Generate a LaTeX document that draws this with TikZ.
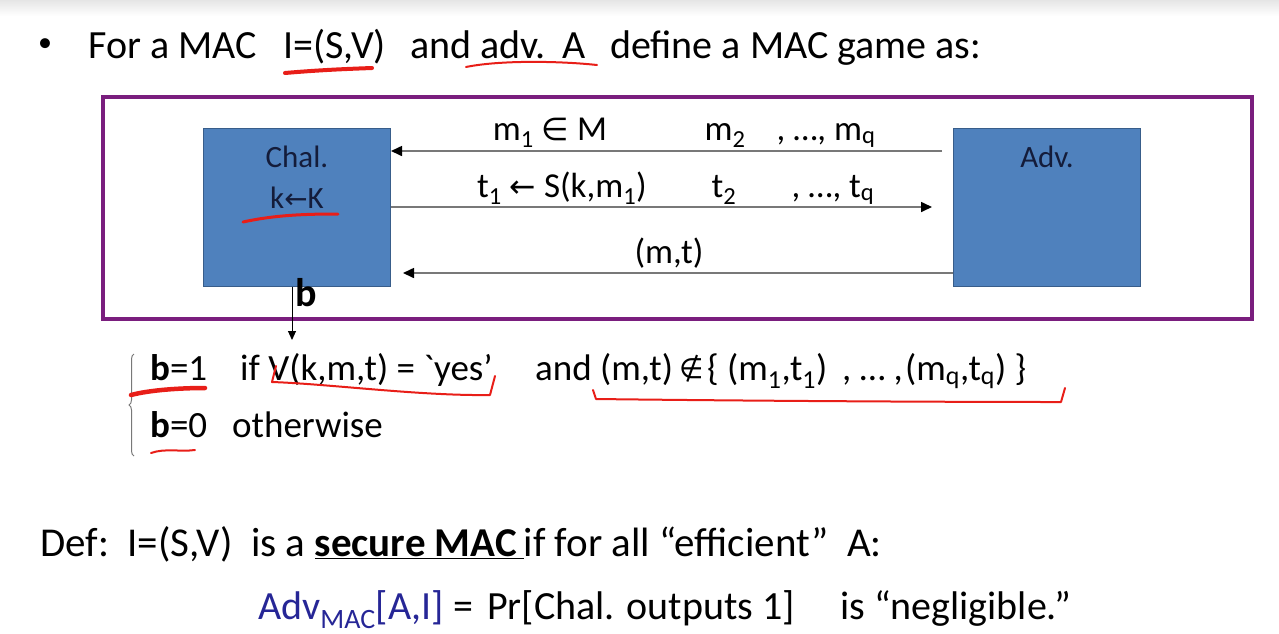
\documentclass[tikz,border=0pt]{standalone}
\usepackage{fontspec}
\setmainfont{Carlito}
\newfontfamily\symfont{DejaVu Sans}
\usetikzlibrary{arrows.meta,decorations.pathreplacing}

\definecolor{framepurple}{RGB}{122,30,126}
\definecolor{boxblue}{RGB}{79,129,189}
\definecolor{boxedge}{RGB}{56,93,138}
\definecolor{boxtext}{RGB}{20,28,58}
\definecolor{wire}{RGB}{120,120,120}
\definecolor{pen}{RGB}{232,30,24}
\definecolor{advblue}{RGB}{38,38,150}

\newcommand{\fs}[1]{\fontsize{#1}{#1}\selectfont}
\newcommand{\sym}[1]{{\symfont\scalebox{0.9}{#1}}}

\tikzset{
    party/.style={draw=boxedge, line width=1pt, fill=boxblue, minimum width=187pt, minimum height=158pt, inner sep=0pt},
    lbl/.style={inner sep=0pt, anchor=base, text=boxtext, font=\fs{31}},
    msgtext/.style={inner sep=0pt, anchor=base, font=\fs{35}},
    txt/.style={inner sep=0pt, anchor=base west},
    msg/.style={wire, line width=1.6pt, -{Triangle[black, length=11pt, width=10pt]}},
    ink/.style={pen, line width=2.4pt, line cap=round, line join=round},
}

\begin{document}
\begin{tikzpicture}[x=1pt, y=-1pt]
    \useasboundingbox (0,0) rectangle (1279,633);
    \shade[top color=black!10, bottom color=white] (0,0) rectangle (1279,16);

    % title line
    \node[inner sep=0pt, font=\fs{28}] (bullet) at (45,45) {•};
    \node[txt, font=\fs{40}] (t1) at (88,58) {For a MAC};
    \node[txt, font=\fs{40}] (t2) at (283,58) {I=(S,V)};
    \node[txt, font=\fs{40}] (t3) at (410,58) {and adv.};
    \node[txt, font=\fs{40}] (t4) at (562,58) {A};
    \node[txt, font=\fs{40}] (t5) at (610,58) {define a MAC game as:};

    % game frame
    \draw[framepurple, line width=4pt] (103,97) rectangle (1252,319);

    \node[party] (chal) at (297,207) {};
    \node[party] (adv) at (1047,207) {};
    \node[lbl] (chalname) at (297,167) {Chal.};
    \node[lbl] (chalkey) at (297,208) {k\sym{←}K};
    \node[lbl] (advname) at (1047,167) {Adv.};

    % queries and tags
    \coordinate (qend) at (942,151);
    \coordinate (tend) at (932,207);
    \coordinate (fend) at (403,273);
    \draw[msg] (qend) -- (qend -| chal.east);
    \draw[msg] (chal.east |- tend) -- (tend);
    \draw[msg] (adv.west |- fend) -- (fend);

    \node[msgtext] (q1) at (550,140) {m\textsubscript{1} \sym{∈} M};
    \node[msgtext] (q2) at (725,140) {m\textsubscript{2}};
    \node[msgtext] (q3) at (826,140) {, …, m\textsubscript{q}};
    \node[msgtext] (r1) at (562,197) {t\textsubscript{1} \sym{←} S(k,m\textsubscript{1})};
    \node[msgtext] (r2) at (724,197) {t\textsubscript{2}};
    \node[msgtext] (r3) at (833,197) {, …, t\textsubscript{q}};
    \node[msgtext] (forge) at (669,263) {(m,t)};

    % output bit
    \coordinate (bend) at (292,340);
    \draw[black, line width=1pt, -{Triangle[length=9pt, width=8pt]}] (chal.south -| bend) -- (bend);
    \node[inner sep=0pt, anchor=base west, font=\fs{40}\bfseries] (bout) at (295,306) {b};

    % cases
    \draw[wire, line width=1pt, decorate, decoration={brace, amplitude=5pt}] (134,456) -- (134,354);
    \node[txt, font=\fs{37}] (c1) at (150,380) {\textbf{b}=1};
    \node[txt, font=\fs{37}] (c2) at (240,380) {if V(k,m,t) = \textasciigrave yes’};
    \node[txt, font=\fs{37}] (c3) at (535,380) {and};
    \node[txt, font=\fs{37}] (c4) at (600,380) {(m,t)};
    \node[txt, font=\fs{28}] (c5) at (679,378) {{\symfont ∉}};
    \node[txt, font=\fs{37}] (c6) at (707,380) {\{ (m\textsubscript{1},t\textsubscript{1})};
    \node[txt, font=\fs{37}] (c7) at (842,380) {, … ,};
    \node[txt, font=\fs{37}] (c8) at (905,380) {(m\textsubscript{q},t\textsubscript{q}) \}};
    \node[txt, font=\fs{37}] (c9) at (150,437) {\textbf{b}=0};
    \node[txt, font=\fs{37}] (c10) at (232,437) {otherwise};

    % definition
    \node[txt, font=\fs{41}] (d1) at (40,556) {Def:\ \ I=(S,V)\ \ is a \underline{\textbf{secure MAC}\,}if for all “efficient”\ \ A:};
    \node[txt, font=\fs{40}, text=advblue] (d2) at (258,619) {Adv\textsubscript{MAC}[A,I]};
    \node[txt, font=\fs{40}] (d3) at (453,619) {=};
    \node[txt, font=\fs{40}] (d4) at (487,619) {Pr[Chal. outputs 1]};
    \node[txt, font=\fs{40}] (d5) at (840,619) {is “negligible.”};

    % red pen marks
    \draw[ink, line width=4pt] (285,73) .. controls (320,70) and (345,69) .. (372,68);
    \draw[ink, line width=2pt] (466,67) .. controls (500,60) and (560,61) .. (597,65);
    \draw[ink, line width=3pt] (243,222) .. controls (275,215) and (305,214) .. (338,214);
    \draw[ink, line width=4.5pt] (131,395) .. controls (150,390) and (180,388) .. (205,388);
    \draw[ink, line width=2pt] (276,366) -- (272,382) .. controls (330,384) and (420,396) .. (490,395) -- (495,376);
    \draw[ink, line width=2pt] (593,390) -- (596,399) .. controls (760,401) and (950,402) .. (1061,402) -- (1065,388);
    \draw[ink, line width=2pt] (151,453) .. controls (165,448) and (180,452) .. (195,450);
\end{tikzpicture}
\end{document}
